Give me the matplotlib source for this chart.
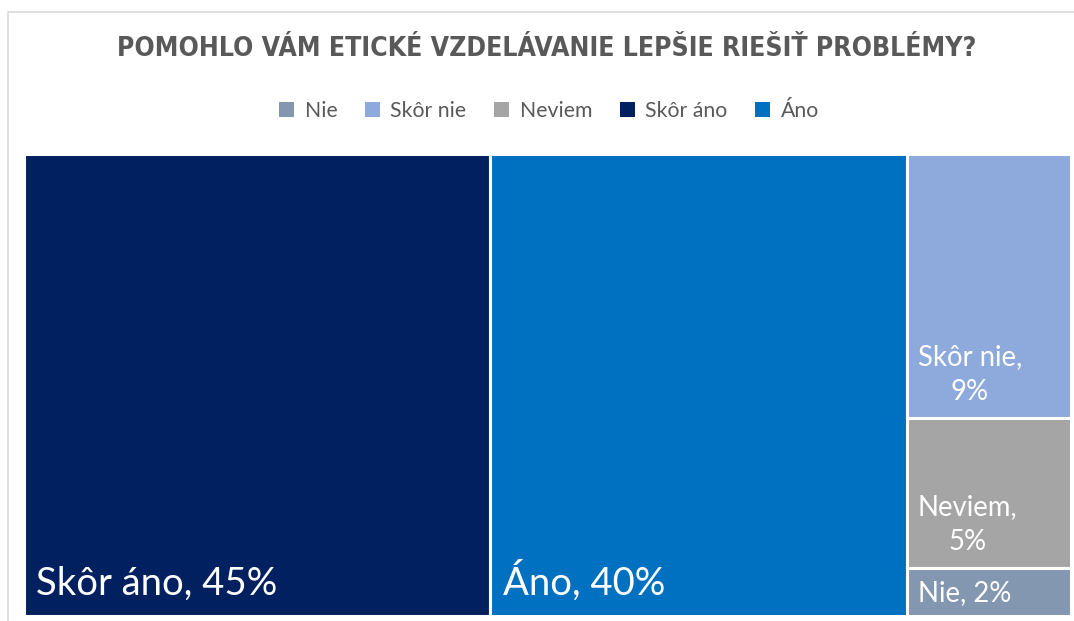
import matplotlib
matplotlib.use("Agg")
import matplotlib.pyplot as plt
from matplotlib import font_manager
from matplotlib.patches import Rectangle, Patch

# legend order
categories = ["Nie", "Skôr nie", "Neviem", "Skôr áno", "Áno"]
colors = ["#8497B0", "#8EA9DB", "#A5A5A5", "#002060", "#0070C0"]
# shares, labels as printed on the chart
shares = [1.6, 9.0, 5.1, 44.6, 39.8]
pct_labels = [2, 9, 5, 45, 40]

title = "POMOHLO VÁM ETICKÉ VZDELÁVANIE LEPŠIE RIEŠIŤ PROBLÉMY?"

# narrow bold font for the title if one is installed
cond = [f for f in font_manager.fontManager.ttflist
        if f.name == "DejaVu Sans" and f.stretch == "condensed" and f.weight == 700]
if cond:
    title_font = dict(family="DejaVu Sans", fontstretch="condensed", fontsize=19.1)
else:
    title_font = dict(family="Lato", fontsize=19.5)

W, H = 1074, 621
fig = plt.figure(figsize=(W / 100, H / 100), dpi=100)

# light chart border (left and top visible)
fig.patches.append(Rectangle((8 / W, -0.05), 1.2, (H - 12) / H + 0.05,
                             transform=fig.transFigure, fill=False,
                             edgecolor="#D9D9D9", lw=1.2))

cx = 547 / W  # chart centre (the chart runs past the right edge)
fig.text(cx, 1 - 49 / H, title, ha="center", va="center",
         fontweight="bold", color="#595959", **title_font)

handles = [Patch(facecolor=c, edgecolor="none") for c in colors]
fig.legend(handles, categories, loc="center", bbox_to_anchor=(549 / W, 1 - 111 / H),
           ncol=5, frameon=False, handlelength=0.7, handleheight=0.7,
           columnspacing=1.3, handletextpad=0.5,
           prop={"family": "Lato", "size": 15.3}, labelcolor="#595959")

# plot area in pixels
x0, x1, y0, y1 = 23.5, 1071, 7 - 1.5, H - 153.5
ax = fig.add_axes([x0 / W, y0 / H, (x1 - x0) / W, (y1 - y0) / H])
aw, ah = x1 - x0, y1 - y0
ax.set_xlim(0, aw)
ax.set_ylim(0, ah)
ax.axis("off")

total = sum(shares)
# big tiles: Skôr áno, Áno as full-height columns, the rest stacked on the right
big = [3, 4]
small = [1, 2, 0]
x = 0
rects = {}
for i in big:
    w = shares[i] / total * aw
    rects[i] = (x, 0, w, ah)
    x += w
rest_w = aw - x
rest_total = sum(shares[i] for i in small)
y = ah
for i in small:
    h = shares[i] / rest_total * ah
    y -= h
    rects[i] = (x, y, rest_w, h)

for i, (rx, ry, rw, rh) in rects.items():
    ax.add_patch(Rectangle((rx, ry), rw, rh, facecolor=colors[i],
                           edgecolor="white", lw=2.2))

for i in big:
    rx, ry, rw, rh = rects[i]
    ax.text(rx + 13, ry + 14, f"{categories[i]}, {pct_labels[i]}%",
            ha="left", va="bottom", color="white", fontsize=27.5, family="Lato")

for i in small:
    rx, ry, rw, rh = rects[i]
    if i == 0:
        txt = f"{categories[i]}, {pct_labels[i]}%"
        pad = 9
    else:
        txt = f"{categories[i]},\n{pct_labels[i]}%"
        pad = 13
    ax.text(rx + 11, ry + pad, txt, ha="left", va="bottom", color="white",
            fontsize=19.8, family="Lato", multialignment="center",
            linespacing=1.45)

fig.savefig("out.png", dpi=100)
